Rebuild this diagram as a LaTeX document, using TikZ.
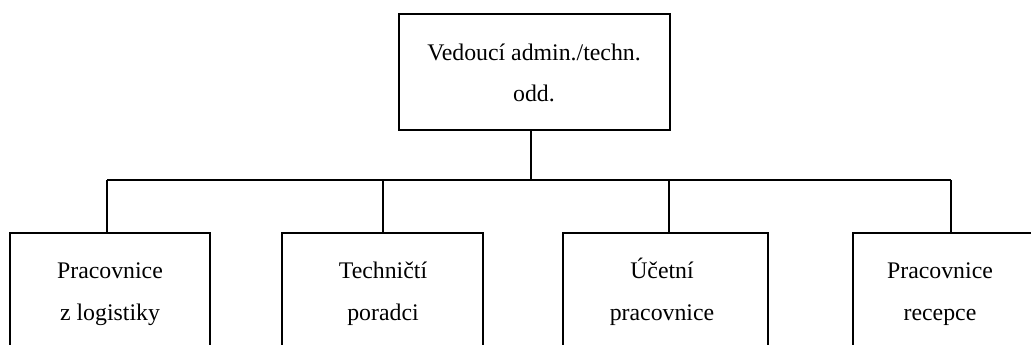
\documentclass[tikz,border=0pt]{standalone}
\usepackage{fontspec}
\setmainfont{Liberation Serif}
\begin{document}
\begin{tikzpicture}[x=1pt,y=-1pt,
  boxst/.style={draw=black, line width=1.8pt, rectangle, inner sep=0pt, anchor=north west},
  txt/.style={font=\fontsize{23.8}{28}\selectfont, anchor=base, inner sep=0pt},
  conn/.style={draw=black, line width=1.6pt}]
\useasboundingbox (0,0) rectangle (1031,345);
\clip (0,0) rectangle (1031,345);
% boxes
\node[boxst, minimum width=271pt, minimum height=116pt] (top) at (398,13) {};
\node[boxst, minimum width=200pt, minimum height=150pt] (b1) at (9,232) {};
\node[boxst, minimum width=201pt, minimum height=150pt] (b2) at (281,232) {};
\node[boxst, minimum width=205pt, minimum height=150pt] (b3) at (562,232) {};
\node[boxst, minimum width=200pt, minimum height=150pt] (b4) at (852,232) {};
% texts
\node[txt] (t1) at (534,61) {Vedoucí admin./techn.};
\node[txt] (t2) at (534,102) {odd.};
\node[txt] (p1) at (110,278) {Pracovnice};
\node[txt] (p2) at (110,320) {z logistiky};
\node[txt] (q1) at (383,278) {Techničtí};
\node[txt] (q2) at (383,320) {poradci};
\node[txt] (r1) at (662,278) {Účetní};
\node[txt] (r2) at (662,320) {pracovnice};
\node[txt] (s1) at (940,278) {Pracovnice};
\node[txt] (s2) at (940,320) {recepce};
% junctions
\coordinate (j0) at (531,180);
\coordinate (j1) at (107,180);
\coordinate (j2) at (383,180);
\coordinate (j3) at (669,180);
\coordinate (j4) at (951,180);
\draw[conn] (j0 |- top.south) -- (j0);
\draw[conn] (j1) -- (j4);
\draw[conn] (j1) -- (j1 |- b1.north);
\draw[conn] (j2) -- (j2 |- b2.north);
\draw[conn] (j3) -- (j3 |- b3.north);
\draw[conn] (j4) -- (j4 |- b4.north);
\end{tikzpicture}
\end{document}
